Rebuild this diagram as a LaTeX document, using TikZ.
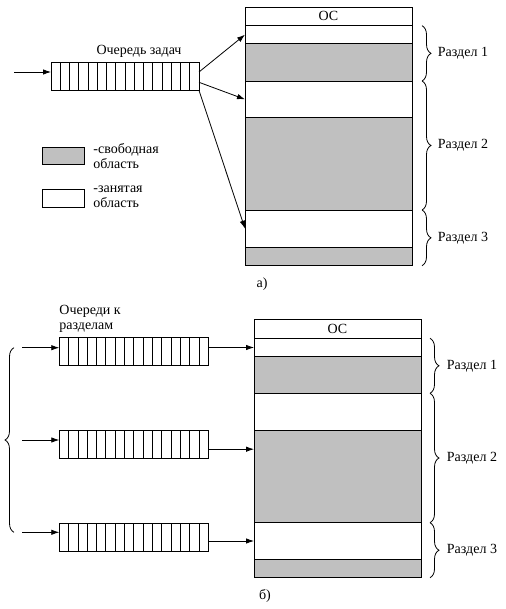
\documentclass[tikz,border=0pt]{standalone}
\usepackage{fontspec}
\setmainfont{Liberation Serif}
\usetikzlibrary{arrows.meta,calc,decorations.pathreplacing,positioning}
\definecolor{freegray}{RGB}{192,192,192}

\tikzset{
  seg/.style={draw,rectangle,anchor=north west,inner sep=0pt,outer sep=0pt,minimum width=167pt},
  freeseg/.style={seg,fill=freegray},
  busyseg/.style={seg,fill=white},
  queue/.style={draw,rectangle,inner sep=0pt,outer sep=0pt,minimum height=28pt},
  arr/.style={-{Latex[length=8pt,width=5.5pt]}},
  brc/.style={decorate,decoration={brace,amplitude=9pt}},
  lbl/.style={anchor=west,inner sep=0pt},
}

% cells of a queue
\newcommand{\qcells}[1]{%
  \foreach \k in {1,...,15}
    \draw ($(#1.north west)!\k/16!(#1.north east)$) -- ($(#1.south west)!\k/16!(#1.south east)$);}

\begin{document}
\begin{tikzpicture}[x=1pt,y=-1pt,line width=0.8pt,font=\fontsize{14}{15}\selectfont]
  \useasboundingbox (0,0) rectangle (505,609);

  % a) one queue
  \node[queue,minimum width=148pt] (qa) at (125,76.3) {};
  \qcells{qa}
  \node (qalbl) at (139,51) {Очередь задач};
  \coordinate (ina) at (14,72);

  \begin{scope}[every node/.style={}]
  \node[busyseg,minimum height=18.7pt] (osa) at (245,7) {};
  \node[busyseg,minimum height=18pt] (a1w) at (245,25.7) {};
  \node[freeseg,minimum height=37.3pt] (a1g) at (245,43.7) {};
  \node[busyseg,minimum height=36.7pt] (a2w) at (245,81) {};
  \node[freeseg,minimum height=92.3pt] (a2g) at (245,117.7) {};
  \node[busyseg,minimum height=37.3pt] (a3w) at (245,210) {};
  \node[freeseg,minimum height=18.4pt] (a3g) at (245,247.3) {};
  \end{scope}
  \node at (osa.center) {ОС};

  \draw[arr] (ina) -- (ina -| qa.west);
  \draw[arr] (ina -| qa.east) -- (a1w.west);
  \draw[arr] ([yshift=-6pt]qa.east) -- (a2w.west);
  \draw[arr] (qa.south east) -- (a3w.west);

  \draw[brc] ([xshift=10pt]a1w.north east) -- ([xshift=10pt]a1g.south east)
    node[midway,lbl,xshift=15.5pt] (ra1) {Раздел 1};
  \draw[brc] ([xshift=10pt]a2w.north east) -- ([xshift=10pt]a2g.south east)
    node[midway,lbl,xshift=15.5pt] (ra2) {Раздел 2};
  \draw[brc] ([xshift=10pt]a3w.north east) -- ([xshift=10pt]a3g.south east)
    node[midway,lbl,xshift=15.5pt] (ra3) {Раздел 3};

  % legend
  \node[freeseg,minimum width=42pt,minimum height=17pt] (lgfree) at (42,147) {};
  \node[busyseg,minimum width=42pt,minimum height=18pt] (lgbusy) at (42,189) {};
  \node[anchor=north west,inner sep=0pt,align=left] (lgfreetxt) at (93,143) {-свободная\\область};
  \node[anchor=north west,inner sep=0pt,align=left] (lgbusytxt) at (93,186) {-занятая\\область};

  \node (capa) at (262,284) {а)};

  % b) a queue per partition
  \node[queue,minimum width=149pt] (q1) at (133.8,351.8) {};
  \node[queue,minimum width=149pt] (q2) at (133.8,444.2) {};
  \node[queue,minimum width=149pt] (q3) at (133.8,537.2) {};
  \qcells{q1}
  \qcells{q2}
  \qcells{q3}
  \node[anchor=north west,inner sep=0pt,align=left] (qblbl) at (59,305) {Очереди к\\разделам};
  \coordinate (in1) at (22,347.7);
  \coordinate (in2) at (22,440);
  \coordinate (in3) at (22,532.3);

  \begin{scope}[every node/.style={}]
  \node[busyseg,minimum height=19pt] (osb) at (254,319.3) {};
  \node[busyseg,minimum height=18.4pt] (b1w) at (254,338.3) {};
  \node[freeseg,minimum height=36.6pt] (b1g) at (254,356.7) {};
  \node[busyseg,minimum height=36.7pt] (b2w) at (254,393.3) {};
  \node[freeseg,minimum height=92.7pt] (b2g) at (254,430) {};
  \node[busyseg,minimum height=36.6pt] (b3w) at (254,522.7) {};
  \node[freeseg,minimum height=18.4pt] (b3g) at (254,559.3) {};
  \end{scope}
  \node at (osb.center) {ОС};

  \draw[arr] (in1) -- (in1 -| q1.west);
  \draw[arr] (in2) -- (in2 -| q2.west);
  \draw[arr] (in3) -- (in3 -| q3.west);
  \draw[arr] (b1w.west -| q1.east) -- (b1w.west);
  \draw[arr] ([yshift=-5pt]q2.east) -- ([yshift=-5pt]q2.east -| b2g.west);
  \draw[arr] (b3w.west -| q3.east) -- (b3w.west);
  \draw[brc] ([xshift=-8pt]in3) -- ([xshift=-8pt]in1);

  \draw[brc] ([xshift=9pt]b1w.north east) -- ([xshift=9pt]b1g.south east)
    node[midway,lbl,xshift=16.5pt] (rb1) {Раздел 1};
  \draw[brc] ([xshift=9pt]b2w.north east) -- ([xshift=9pt]b2g.south east)
    node[midway,lbl,xshift=16.5pt] (rb2) {Раздел 2};
  \draw[brc] ([xshift=9pt]b3w.north east) -- ([xshift=9pt]b3g.south east)
    node[midway,lbl,xshift=16.5pt] (rb3) {Раздел 3};

  \node (capb) at (265,596) {б)};
\end{tikzpicture}
\end{document}
